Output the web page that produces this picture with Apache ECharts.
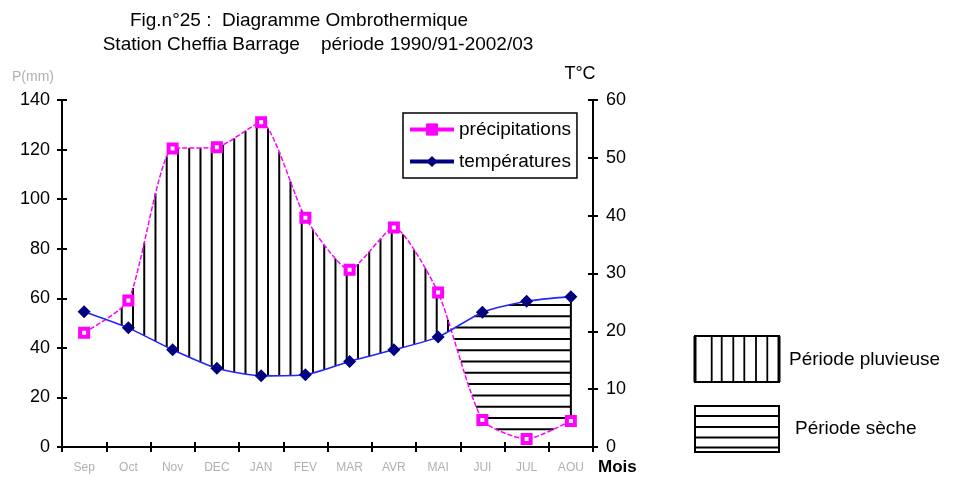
<!DOCTYPE html>
<html>
<head>
<meta charset="utf-8">
<script src="https://cdn.jsdelivr.net/npm/echarts@6/dist/echarts.min.js"></script>
<style>
  html, body { margin: 0; padding: 0; background: #fff; }
  #chart { width: 954px; height: 481px; }
</style>
</head>
<body>
<div id="chart"></div>
<script>
// Monthly climate normals, Cheffia Barrage station, 1990/91 - 2002/03
const months = ['Sep', 'Oct', 'Nov', 'DEC', 'JAN', 'FEV', 'MAR', 'AVR', 'MAI', 'JUI', 'JUL', 'AOU'];
const precipitations = [46.1, 59.1, 120.4, 120.9, 131.0, 92.5, 71.5, 88.6, 62.3, 10.9, 3.2, 10.5]; // mm
const temperatures = [23.4, 20.6, 16.8, 13.6, 12.3, 12.5, 14.8, 16.8, 19.0, 23.3, 25.2, 26.0];    // °C
const precipAxis = { min: 0, max: 140, interval: 20 };
const tempAxis = { min: 0, max: 60, interval: 10 };

const FONT = '"Liberation Sans", Arial, sans-serif';
const SMOOTH = 0.2;

// Same cubic smoothing as the line series (numeric smooth factor), in pixel space
function smoothSegments(pts) {
  const segs = [];
  let cp0 = pts[0].slice();
  for (let i = 1; i < pts.length; i++) {
    const x = pts[i][0], y = pts[i][1];
    const prevX = pts[i - 1][0], prevY = pts[i - 1][1];
    let cp1, nextCp0 = null;
    if (i === pts.length - 1) {
      cp1 = [x, y];
    } else {
      const nextX = pts[i + 1][0], nextY = pts[i + 1][1];
      let vx = nextX - prevX, vy = nextY - prevY;
      const lenPrev = Math.hypot(x - prevX, y - prevY);
      const lenNext = Math.hypot(nextX - x, nextY - y);
      const ratio = lenNext / (lenNext + lenPrev);
      let ncx = x + vx * SMOOTH * ratio, ncy = y + vy * SMOOTH * ratio;
      ncx = Math.max(Math.min(ncx, Math.max(nextX, x)), Math.min(nextX, x));
      ncy = Math.max(Math.min(ncy, Math.max(nextY, y)), Math.min(nextY, y));
      vx = ncx - x; vy = ncy - y;
      let c1x = x - vx * lenPrev / lenNext, c1y = y - vy * lenPrev / lenNext;
      c1x = Math.max(Math.min(c1x, Math.max(prevX, x)), Math.min(prevX, x));
      c1y = Math.max(Math.min(c1y, Math.max(prevY, y)), Math.min(prevY, y));
      vx = x - c1x; vy = y - c1y;
      ncx = x + vx * lenNext / lenPrev; ncy = y + vy * lenNext / lenPrev;
      cp1 = [c1x, c1y];
      nextCp0 = [ncx, ncy];
    }
    segs.push([pts[i - 1], cp0, cp1, pts[i]]);
    cp0 = nextCp0;
  }
  return segs;
}

function sampleCurve(segs, n) {
  const out = [];
  segs.forEach((s, si) => {
    const [p0, c0, c1, p1] = s;
    for (let k = si ? 1 : 0; k <= n; k++) {
      const t = k / n, u = 1 - t;
      const a = u * u * u, b = 3 * u * u * t, c = 3 * u * t * t, d = t * t * t;
      out.push([a * p0[0] + b * c0[0] + c * c1[0] + d * p1[0],
                a * p0[1] + b * c0[1] + c * c1[1] + d * p1[1]]);
    }
  });
  return out;
}

function yAt(poly, x) {
  for (let i = 1; i < poly.length; i++) {
    const x0 = poly[i - 1][0], x1 = poly[i][0];
    if (x >= x0 - 1e-6 && x <= x1 + 1e-6) {
      const y0 = poly[i - 1][1], y1 = poly[i][1];
      return x1 === x0 ? y0 : y0 + (y1 - y0) * (x - x0) / (x1 - x0);
    }
  }
  return null;
}

// Hatching: vertical lines for the wet period, horizontal lines for the dry period
const VERT_STEP = 11.25, VERT_PHASE = 37.6;
const HORIZ_STEP = 11.3, HORIZ_PHASE = 17.7;
const HATCH_WIDTH = 2;

function renderHatch(params, api) {
  const scale = precipAxis.max / tempAxis.max;
  const P = precipitations.map((v, i) => api.coord([i, v]));
  const T = temperatures.map((v, i) => api.coord([i, v * scale]));
  const pc = sampleCurve(smoothSegments(P), 60);
  const tc = sampleCurve(smoothSegments(T), 60);
  const style = { stroke: '#000', lineWidth: HATCH_WIDTH };
  const children = [];
  const xStart = P[0][0], xEnd = P[P.length - 1][0];

  for (let x = xStart + VERT_PHASE; x <= xEnd; x += VERT_STEP) {
    const yp = yAt(pc, x), yt = yAt(tc, x);
    if (yp !== null && yt !== null && yt - yp > 2) {
      children.push({ type: 'line', shape: { x1: x, y1: yp, x2: x, y2: yt }, style });
    }
  }

  // dry season: last stretch where the temperature curve lies above the rainfall curve
  let xc = xEnd;
  while (xc > xStart && yAt(tc, xc) < yAt(pc, xc)) xc -= 0.25;
  let yTop = Infinity;
  const xs = [];
  for (let x = xc; x <= xEnd + 0.001; x += 0.25) {
    const xx = Math.min(x, xEnd);
    const yt = yAt(tc, xx), yp = yAt(pc, xx);
    xs.push([xx, yt, yp]);
    if (yt < yTop) yTop = yt;
  }
  const base = api.coord([0, 0])[1];
  for (let y = base - HORIZ_PHASE; y > yTop; y -= HORIZ_STEP) {
    let minX = null, maxX = null;
    xs.forEach(([x, yt, yp]) => {
      if (yt < y && y < yp) { if (minX === null) minX = x; maxX = x; }
    });
    if (minX !== null && maxX - minX > 2) {
      children.push({ type: 'line', shape: { x1: minX, y1: y, x2: maxX, y2: y }, style });
    }
  }
  const last = P.length - 1;
  children.push({ type: 'line', shape: { x1: xEnd, y1: T[last][1], x2: xEnd, y2: P[last][1] }, style });
  return { type: 'group', children };
}

const axisLineStyle = { show: true, lineStyle: { color: '#000', width: 2 } };
const tickOut = { show: true, length: 5, lineStyle: { color: '#000', width: 2 } };
const tickIn = { show: true, inside: true, length: 5, lineStyle: { color: '#000', width: 2 } };
const valueLabel = { color: '#000', fontSize: 18, fontFamily: FONT };

// bottom-right key: hatched boxes
const keyGraphics = [];
(function buildKey() {
  const bx = 695, bw = 84;
  // wet period box
  keyGraphics.push({ type: 'rect', shape: { x: bx, y: 336, width: bw, height: 46 },
    style: { fill: '#fff', stroke: '#000', lineWidth: 2 } });
  [695, 779].forEach(x => keyGraphics.push({ type: 'line', shape: { x1: x, y1: 336, x2: x, y2: 382 },
    style: { stroke: '#000', lineWidth: 3 } }));
  [711.7, 721.7, 733.3, 744.3, 756, 767.3].forEach(x => keyGraphics.push({ type: 'line',
    shape: { x1: x, y1: 336, x2: x, y2: 382 }, style: { stroke: '#000', lineWidth: 1.8 } }));
  keyGraphics.push({ type: 'text', style: { x: 789, y: 360, text: 'Période pluvieuse', fill: '#000',
    font: '19px ' + FONT, textAlign: 'left', textVerticalAlign: 'middle' } });
  // dry period box
  keyGraphics.push({ type: 'rect', shape: { x: bx, y: 406, width: bw, height: 46 },
    style: { fill: '#fff', stroke: '#000', lineWidth: 2 } });
  [416, 427, 437.5, 447.5].forEach(y => keyGraphics.push({ type: 'line',
    shape: { x1: bx, y1: y, x2: bx + bw, y2: y }, style: { stroke: '#000', lineWidth: 1.8 } }));
  keyGraphics.push({ type: 'text', style: { x: 795, y: 429, text: 'Période sèche', fill: '#000',
    font: '19px ' + FONT, textAlign: 'left', textVerticalAlign: 'middle' } });
})();

const chart = echarts.init(document.getElementById('chart'), null, { renderer: 'canvas' });
chart.setOption({
  animation: false,
  backgroundColor: '#fff',
  grid: { left: 62, right: 361, top: 100, bottom: 34, containLabel: false },
  graphic: [
    { type: 'text', style: { x: 299, y: 21, text: 'Fig.n°25 :  Diagramme Ombrothermique', fill: '#000',
      font: '19px ' + FONT, textAlign: 'center', textVerticalAlign: 'middle' } },
    { type: 'text', style: { x: 318, y: 45, text: 'Station Cheffia Barrage    période 1990/91-2002/03', fill: '#000',
      font: '19px ' + FONT, textAlign: 'center', textVerticalAlign: 'middle' } },
    { type: 'text', style: { x: 33, y: 77, text: 'P(mm)', fill: '#b0b0b0',
      font: '14px ' + FONT, textAlign: 'center', textVerticalAlign: 'middle' } },
    { type: 'text', style: { x: 580, y: 74, text: 'T°C', fill: '#000',
      font: '18px ' + FONT, textAlign: 'center', textVerticalAlign: 'middle' } },
    { type: 'text', style: { x: 598, y: 467, text: 'Mois', fill: '#000',
      font: 'bold 17px ' + FONT, textAlign: 'left', textVerticalAlign: 'middle' } }
  ].concat(keyGraphics),
  legend: {
    orient: 'vertical', left: 403, top: 113,
    data: [
      { name: 'précipitations', lineStyle: { type: 'solid', color: '#ff00ff' },
        itemStyle: { color: '#ff00ff', borderColor: '#ff00ff', borderWidth: 1 } },
      { name: 'températures', lineStyle: { type: 'solid', color: '#000080' } }
    ],
    backgroundColor: '#fff', borderColor: '#000', borderWidth: 1.5, borderRadius: 0,
    padding: [7, 6, 7, 5], itemWidth: 44, itemHeight: 14, itemGap: 13,
    lineStyle: { width: 4 },
    textStyle: { color: '#000', fontSize: 19, fontFamily: FONT }
  },
  xAxis: [
    { type: 'category', data: months, position: 'bottom', boundaryGap: true,
      axisLine: axisLineStyle, axisTick: tickOut,
      axisLabel: { color: '#b0b0b0', fontSize: 12, fontFamily: FONT, margin: 15 },
      splitLine: { show: false } },
    { type: 'category', data: months, position: 'bottom', boundaryGap: true,
      axisLine: { show: false }, axisTick: tickIn, axisLabel: { show: false }, splitLine: { show: false } }
  ],
  yAxis: [
    { type: 'value', position: 'left', min: precipAxis.min, max: precipAxis.max, interval: precipAxis.interval,
      axisLine: axisLineStyle, axisTick: tickOut, axisLabel: Object.assign({ margin: 12 }, valueLabel),
      splitLine: { show: false } },
    { type: 'value', position: 'right', min: tempAxis.min, max: tempAxis.max, interval: tempAxis.interval,
      axisLine: axisLineStyle, axisTick: tickOut, axisLabel: Object.assign({ margin: 13 }, valueLabel),
      splitLine: { show: false } },
    { type: 'value', position: 'left', offset: 0, min: precipAxis.min, max: precipAxis.max, interval: precipAxis.interval,
      axisLine: { show: false }, axisTick: tickIn, axisLabel: { show: false }, splitLine: { show: false } },
    { type: 'value', position: 'right', offset: 0, min: tempAxis.min, max: tempAxis.max, interval: tempAxis.interval,
      axisLine: { show: false }, axisTick: tickIn, axisLabel: { show: false }, splitLine: { show: false } }
  ],
  series: [
    { type: 'custom', name: 'hatch', xAxisIndex: 0, yAxisIndex: 0, z: 1, silent: true,
      data: [[0, 0]], renderItem: renderHatch },
    { type: 'line', name: 'précipitations', xAxisIndex: 0, yAxisIndex: 0, z: 3,
      data: precipitations, smooth: SMOOTH,
      lineStyle: { color: '#ff00ff', width: 1.5, type: [5, 2] },
      symbol: 'rect', symbolSize: 8,
      itemStyle: { color: '#ffffff', borderColor: '#ff00ff', borderWidth: 4 } },
    { type: 'line', name: 'températures', xAxisIndex: 0, yAxisIndex: 1, z: 3,
      data: temperatures, smooth: SMOOTH,
      lineStyle: { color: '#2424ff', width: 1.6 },
      symbol: 'diamond', symbolSize: 13,
      itemStyle: { color: '#000080', borderWidth: 0 } }
  ]
});
</script>
</body>
</html>
